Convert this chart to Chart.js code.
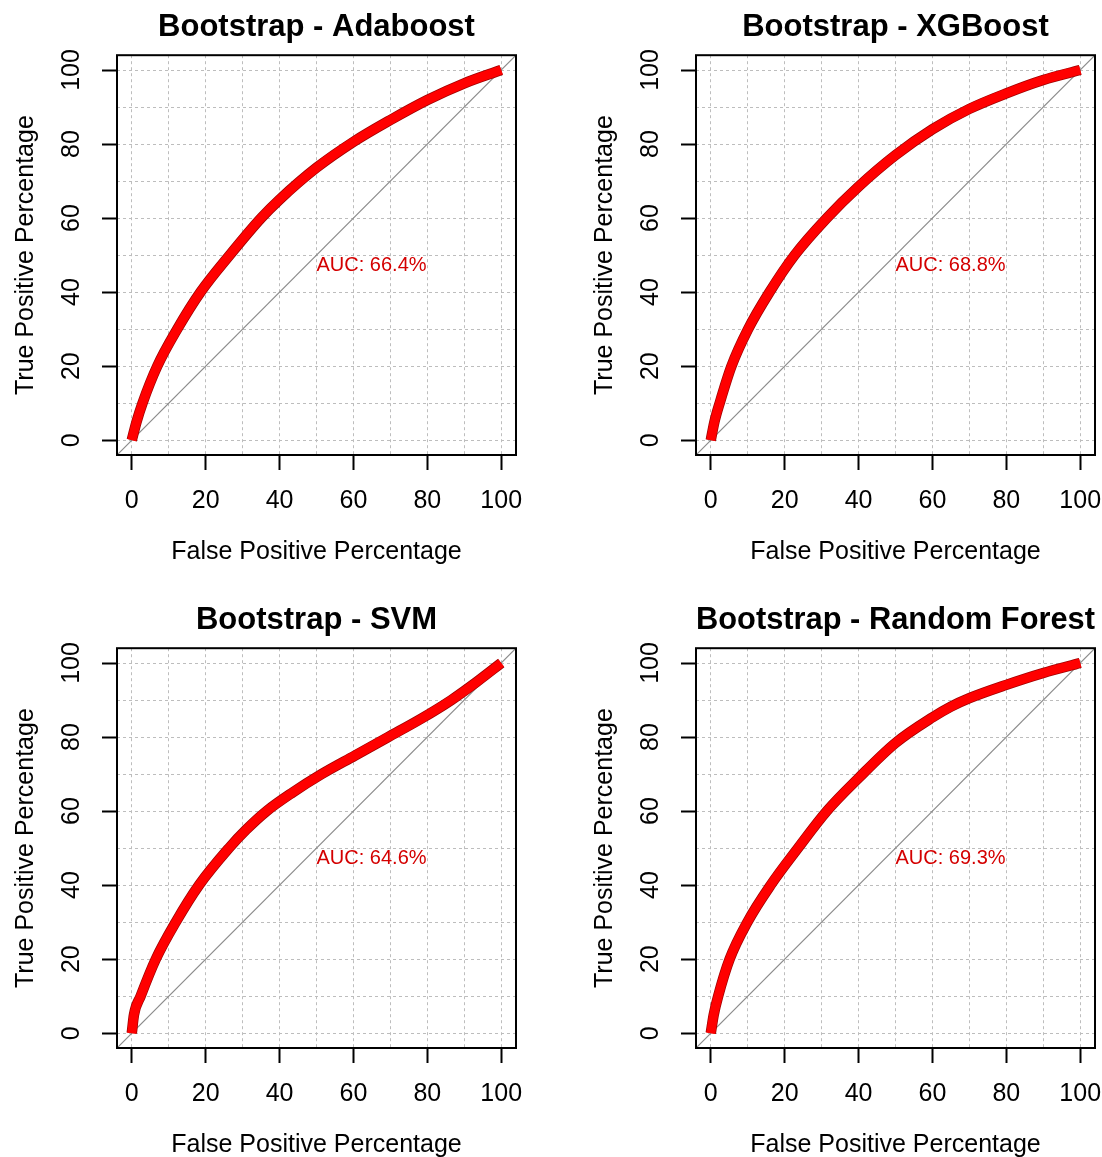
<!DOCTYPE html>
<html>
<head>
<meta charset="utf-8">
<script src="https://cdn.jsdelivr.net/npm/chart.js@4.4.0/dist/chart.umd.min.js"></script>
<style>
    html, body { margin: 0; padding: 0; background: #fff; overflow: hidden; }
    #page { position: relative; width: 1102px; height: 1157px; }
    .panel { position: absolute; width: 523px; height: 564px; }
</style>
</head>
<body>
<div id="page">
    <div class="panel" style="left:0;top:0"><canvas id="roc-ada" width="523" height="564"></canvas></div>
    <div class="panel" style="left:579px;top:0"><canvas id="roc-xgb" width="523" height="564"></canvas></div>
    <div class="panel" style="left:0;top:593px"><canvas id="roc-svm" width="523" height="564"></canvas></div>
    <div class="panel" style="left:579px;top:593px"><canvas id="roc-rf" width="523" height="564"></canvas></div>
</div>
<script>
// Axis setup (R style: range extends 4% beyond 0..100)
const axisRange = [-4, 104];
const gridTicks = [0, 10, 20, 30, 40, 50, 60, 70, 80, 90, 100];
const labelTicks = [0, 20, 40, 60, 80, 100];
const aucLabelPos = [50, 50];

// Adaboost ROC (false positive %, true positive %)
const adaFpr = [0, 1.3, 2.9, 6.9, 12.3, 18.6, 26.5, 35, 40, 50, 60, 70, 80, 90, 100];
const adaTpr = [0, 5, 10, 20, 30, 40, 50, 60, 65, 73.6, 80.6, 86.5, 91.9, 96.4, 100];

// XGBoost ROC
const xgbFpr = [0, 1, 2.4, 5.6, 10.1, 15.9, 22.7, 31.4, 40, 50, 60, 70, 80, 90, 100];
const xgbTpr = [0, 5, 10, 20, 30, 40, 50, 60, 68.5, 77, 84, 89.5, 93.7, 97.3, 100];

// SVM ROC
const svmFpr = [0, 0.6, 2.4, 6.5, 11.9, 18.2, 26.3, 31, 36.5, 43.5, 51.4, 60.4, 69.4, 78.4, 86.5, 93.5, 100];
const svmTpr = [0, 5, 10, 20, 30, 40, 50, 55, 60, 65, 70, 75, 80, 85, 90, 95, 100];

// Random Forest ROC
const rfFpr = [0, 0.8, 2, 5.1, 9.9, 16.2, 23.6, 31.4, 40, 50, 60, 65, 70, 80, 90, 100];
const rfTpr = [0, 5, 10, 20, 30, 40, 50, 60, 68.9, 78.4, 85.3, 88.2, 90.5, 94.1, 97.3, 100];

const modelTitles = ['Bootstrap - Adaboost', 'Bootstrap - XGBoost', 'Bootstrap - SVM', 'Bootstrap - Random Forest'];
const aucTexts = ['AUC: 66.4%', 'AUC: 68.8%', 'AUC: 64.6%', 'AUC: 69.3%'];

const FONT = '"Liberation Sans", Arial, Helvetica, sans-serif';
Chart.defaults.color = '#000';
Chart.defaults.font.family = FONT;

// Box around the plot + AUC label
const rocExtras = {
    id: 'rocExtras',
    afterDatasetsDraw(chart, args, opts) {
        const { ctx, chartArea: a, scales } = chart;
        ctx.save();
        ctx.fillStyle = '#d40000';
        ctx.font = '20px ' + FONT;
        ctx.textAlign = 'left';
        ctx.textBaseline = 'top';
        ctx.fillText(opts.text, scales.x.getPixelForValue(aucLabelPos[0]), scales.y.getPixelForValue(aucLabelPos[1]));
        ctx.strokeStyle = '#000';
        ctx.lineWidth = 2;
        ctx.strokeRect(a.left, a.top, a.right - a.left, a.bottom - a.top);
        ctx.restore();
    }
};

function toPoints(xs, ys) {
    return xs.map((x, i) => ({ x: x, y: ys[i] }));
}

function axisOptions(isX) {
    return {
        type: 'linear',
        min: axisRange[0],
        max: axisRange[1],
        afterBuildTicks: s => { s.ticks = gridTicks.map(v => ({ value: v })); },
        afterFit: s => {
            // fixed axis sizes, no extra room for overhanging labels
            if (isX) s.height = 109; else s.width = 117;
            s.paddingLeft = 0; s.paddingRight = 0;
            s.paddingTop = 0; s.paddingBottom = 0;
        },
        grid: {
            color: '#bdbdbd',
            lineWidth: 1,
            drawTicks: true,
            tickLength: 15,
            tickWidth: 2,
            tickColor: c => labelTicks.includes(c.tick.value) ? '#000' : 'rgba(0,0,0,0)'
        },
        border: { display: false, dash: [3, 3] },
        ticks: {
            autoSkip: false,
            font: { size: 25 },
            padding: isX ? 16 : 9,
            minRotation: isX ? 0 : 90,
            maxRotation: isX ? 0 : 90,
            crossAlign: isX ? 'near' : 'center',
            callback: v => labelTicks.includes(v) ? String(v) : ''
        },
        title: {
            display: true,
            text: isX ? 'False Positive Percentage' : 'True Positive Percentage',
            font: { size: 25 },
            padding: isX ? { top: 0, bottom: -3 } : { top: 11, bottom: 0 }
        }
    };
}

function createRocChart(canvasId, title, fpr, tpr, aucText) {
    const ctx = document.getElementById(canvasId);
    if (!ctx) return;

    return new Chart(ctx, {
        type: 'scatter',
        data: {
            datasets: [
                {
                    // identity line
                    data: [{ x: axisRange[0], y: axisRange[0] }, { x: axisRange[1], y: axisRange[1] }],
                    showLine: true,
                    borderColor: '#8a8a8a',
                    borderWidth: 1.2,
                    pointRadius: 0,
                    order: 3
                },
                {
                    // dark edge under the curve
                    data: toPoints(fpr, tpr),
                    showLine: true,
                    borderColor: '#a00000',
                    borderWidth: 10.5,
                    cubicInterpolationMode: 'monotone',
                    pointRadius: 0,
                    order: 2
                },
                {
                    data: toPoints(fpr, tpr),
                    showLine: true,
                    borderColor: '#ff0000',
                    borderWidth: 9,
                    cubicInterpolationMode: 'monotone',
                    pointRadius: 0,
                    order: 1
                }
            ]
        },
        options: {
            responsive: false,
            animation: false,
            devicePixelRatio: 1,
            layout: { padding: { left: 0, right: 7, top: 0, bottom: 0 } },
            plugins: {
                legend: { display: false },
                tooltip: { enabled: false },
                title: {
                    display: true,
                    text: title,
                    fullSize: false,
                    font: { size: 31, weight: 'bold' },
                    padding: { top: 9, bottom: 9 }
                },
                rocExtras: { text: aucText }
            },
            scales: {
                x: axisOptions(true),
                y: axisOptions(false)
            }
        },
        plugins: [rocExtras]
    });
}

createRocChart('roc-ada', modelTitles[0], adaFpr, adaTpr, aucTexts[0]);
createRocChart('roc-xgb', modelTitles[1], xgbFpr, xgbTpr, aucTexts[1]);
createRocChart('roc-svm', modelTitles[2], svmFpr, svmTpr, aucTexts[2]);
createRocChart('roc-rf', modelTitles[3], rfFpr, rfTpr, aucTexts[3]);
</script>
</body>
</html>
